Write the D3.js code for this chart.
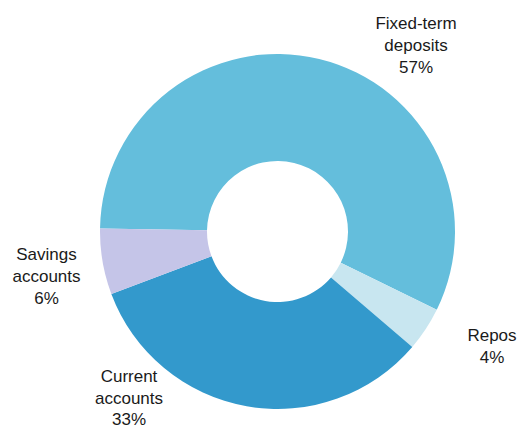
<!DOCTYPE html>
<html>
<head>
<meta charset="utf-8">
<script src="https://cdn.jsdelivr.net/npm/d3@7"></script>
<style>
  html, body { margin: 0; padding: 0; background: #fff; }
  svg { display: block; }
  text { font-family: "Liberation Sans", Arial, sans-serif; fill: #1a1a1a; }
</style>
</head>
<body>
<svg id="chart" width="524" height="428"></svg>
<script>
// Deposit structure by type (share of total, %)
const categories = ["Fixed-term deposits", "Repos", "Current accounts", "Savings accounts"];
const shares = [57, 4, 33, 6];
const labelLines = [["Fixed-term", "deposits"], ["Repos"], ["Current", "accounts"], ["Savings", "accounts"]];

const colors = ["#64bedc", "#c8e6f0", "#3399cc", "#c5c5e8"];

const width = 524, height = 428;
const cx = 277.5, cy = 231.5;
const outerR = 177.5, innerR = 70.5;

const svg = d3.select("#chart");
const g = svg.append("g").attr("transform", `translate(${cx},${cy})`);

const data = categories.map((c, i) => ({ name: c, value: shares[i], lines: labelLines[i], color: colors[i] }));

const pie = d3.pie()
  .value(d => d.value)
  .sort(null)
  .startAngle(-89 * Math.PI / 180)
  .endAngle(271 * Math.PI / 180);

const arc = d3.arc().innerRadius(innerR).outerRadius(outerR);

const arcs = pie(data);

g.selectAll("path.slice")
  .data(arcs)
  .join("path")
  .attr("class", "slice")
  .attr("d", arc)
  .attr("fill", d => d.data.color);

// Label placement: text block centre (x) and first-line baseline (y), relative to the chart centre
const labelPlace = {
  "Fixed-term deposits": [138.5, -202.5],
  "Repos": [214.5, 109.5],
  "Current accounts": [-148.5, 150.3],
  "Savings accounts": [-231, 28.5]
};
const lineH = 21.8;

const labels = g.selectAll("text.label")
  .data(arcs)
  .join("text")
  .attr("class", "label")
  .attr("text-anchor", "middle")
  .attr("font-size", 17)
  .attr("x", d => labelPlace[d.data.name][0])
  .attr("y", d => labelPlace[d.data.name][1]);

labels.each(function(d) {
  const t = d3.select(this);
  const x = labelPlace[d.data.name][0];
  const lines = d.data.lines.concat([d.data.value + "%"]);
  lines.forEach((ln, i) => {
    t.append("tspan")
      .attr("x", x)
      .attr("dy", i === 0 ? 0 : lineH)
      .text(ln);
  });
});
</script>
</body>
</html>
